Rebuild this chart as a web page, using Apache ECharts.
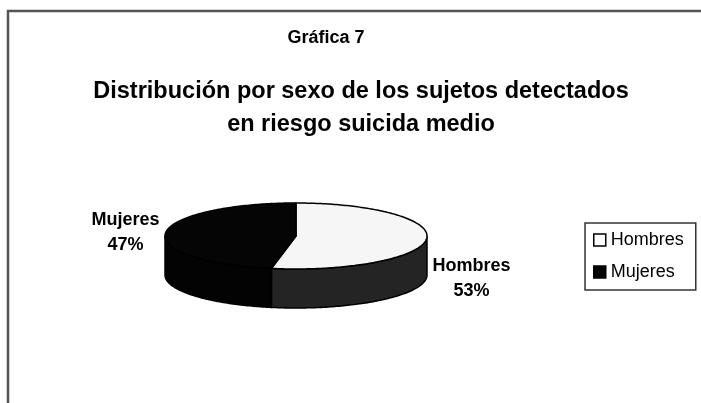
<!DOCTYPE html>
<html>
<head>
<meta charset="utf-8">
<script src="https://cdn.jsdelivr.net/npm/echarts@6/dist/echarts.min.js"></script>
<style>
  html, body { margin: 0; padding: 0; background: #ffffff; }
  #chart { width: 701px; height: 403px; }
</style>
</head>
<body>
<div id="chart"></div>
<script>
// ---- data ----
const categories = ['Hombres', 'Mujeres'];
const shares = [53, 47];
const supTitle = 'Gráfica 7';
const titleLines = ['Distribución por sexo de los sujetos detectados', 'en riesgo suicida medio'];

// ---- styling ----
const FONT = '"Liberation Sans", Arial, Helvetica, sans-serif';
const topColors = ['#f6f6f6', '#050505'];   // upper face of each slice
const sideColors = ['#242424', '#030303'];  // outer wall of each slice
// tilted pie: centre, radii of the top ellipse and thickness of the disc
const PIE = { cx: 296, cy: 236, rx: 131, ry: 33, depth: 39 };
const LABEL = { size: 18, lineHeight: 25, gap: 6 };

const total = shares.reduce((a, b) => a + b, 0);

// angle measured clockwise from 12 o'clock
function pt(theta, dy) {
  return [PIE.cx + PIE.rx * Math.sin(theta), PIE.cy - PIE.ry * Math.cos(theta) + (dy || 0)];
}
function arc(a, b, dy) {
  const pts = [];
  const n = Math.max(2, Math.ceil(Math.abs(b - a) / (Math.PI / 180)));
  for (let i = 0; i <= n; i++) pts.push(pt(a + (b - a) * i / n, dy));
  return pts;
}

const measureCtx = document.createElement('canvas').getContext('2d');
function textWidth(str, font) {
  measureCtx.font = font;
  return Math.max.apply(null, str.split('\n').map(s => measureCtx.measureText(s).width));
}

function makeRenderItem(idx) {
  return function (params, api) {
    const v = api.value(0);
    let before = 0;
    for (let k = 0; k < idx; k++) before += shares[k];
    const a0 = before / total * Math.PI * 2;
    const a1 = (before + v) / total * Math.PI * 2;
    const children = [];

    // visible part of the outer wall (front half of the disc)
    const s0 = Math.max(a0, Math.PI / 2);
    const s1 = Math.min(a1, Math.PI * 1.5);
    if (s1 > s0) {
      const upper = arc(s0, s1, 0);
      const lower = arc(s1, s0, PIE.depth);
      children.push({
        type: 'polygon',
        z2: 1,
        shape: { points: upper.concat(lower) },
        style: { fill: sideColors[idx], stroke: '#000', lineWidth: 1.5 }
      });
    }

    // upper face
    children.push({
      type: 'polygon',
      z2: 2,
      shape: { points: [[PIE.cx, PIE.cy]].concat(arc(a0, a1, 0)) },
      style: { fill: topColors[idx], stroke: '#000', lineWidth: 1.5 }
    });

    // outside label: name and percentage
    const mid = (a0 + a1) / 2;
    const sn = Math.sin(mid), cs = Math.cos(mid);
    const text = categories[idx] + '\n' + Math.round(v / total * 100) + '%';
    const font = 'bold ' + LABEL.size + 'px ' + FONT;
    const w = textWidth(text, font);
    const edge = pt(mid, cs < 0 ? PIE.depth : 0);
    const x = sn >= 0 ? edge[0] + LABEL.gap + w / 2 : edge[0] - LABEL.gap - w / 2;
    children.push({
      type: 'text',
      z2: 3,
      style: {
        text: text,
        x: x,
        y: edge[1],
        align: 'center',
        verticalAlign: 'middle',
        fontSize: LABEL.size,
        fontWeight: 'bold',
        fontFamily: FONT,
        lineHeight: LABEL.lineHeight,
        fill: '#000'
      }
    });

    return { type: 'group', children: children };
  };
}

const chart = echarts.init(document.getElementById('chart'), null, { renderer: 'canvas' });

chart.setOption({
  animation: false,
  backgroundColor: '#ffffff',
  graphic: [{
    type: 'rect',
    silent: true,
    shape: { x: 8, y: 11, width: 760, height: 460 },
    style: { fill: 'none', stroke: '#555555', lineWidth: 2.5 }
  }],
  title: [{
    text: supTitle,
    left: 326,
    top: 28,
    textAlign: 'center',
    padding: 0,
    textStyle: { fontFamily: FONT, fontSize: 18, fontWeight: 'bold', color: '#000', lineHeight: 20 }
  }, {
    text: titleLines.join('\n'),
    left: 361,
    top: 75,
    textAlign: 'center',
    padding: 0,
    textStyle: { fontFamily: FONT, fontSize: 23.5, fontWeight: 'bold', color: '#000', lineHeight: 33 }
  }],
  legend: {
    orient: 'vertical',
    left: 585,
    top: 223,
    selectedMode: false,
    icon: 'rect',
    itemWidth: 12,
    itemHeight: 12,
    itemGap: 12,
    padding: [7, 12, 8, 8],
    borderColor: '#333333',
    borderWidth: 1.5,
    backgroundColor: '#ffffff',
    textStyle: { fontFamily: FONT, fontSize: 18, color: '#000', lineHeight: 20 },
    data: categories.map((name, i) => ({
      name: name,
      itemStyle: { color: i === 0 ? '#ffffff' : '#000000', borderColor: '#000', borderWidth: 1.5 }
    }))
  },
  series: categories.map((name, i) => ({
    type: 'custom',
    name: name,
    coordinateSystem: 'none',
    silent: true,
    itemStyle: { color: topColors[i] },
    renderItem: makeRenderItem(i),
    data: [[shares[i]]]
  }))
});
</script>
</body>
</html>
